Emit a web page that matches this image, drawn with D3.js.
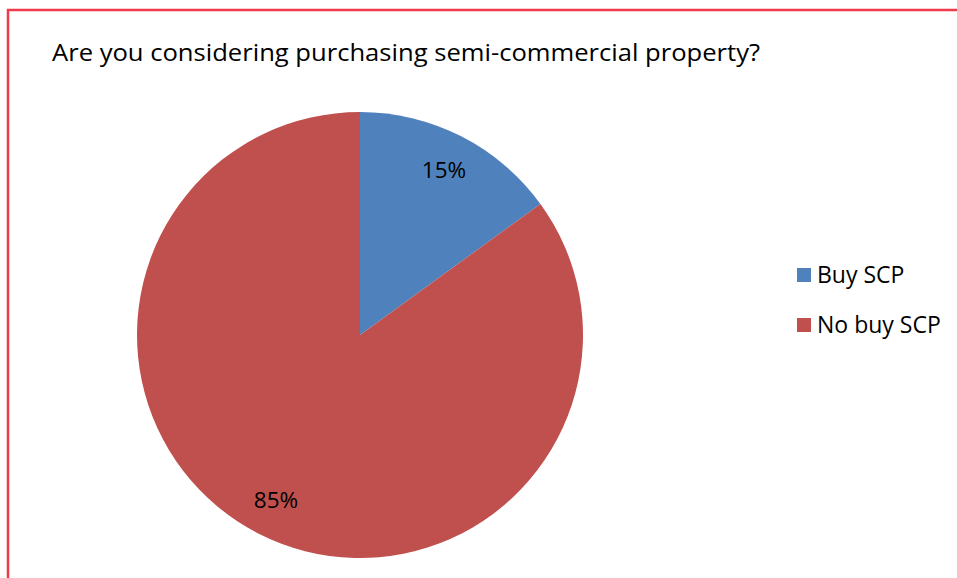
<!DOCTYPE html>
<html>
<head>
<meta charset="utf-8">
<script src="https://cdn.jsdelivr.net/npm/d3@7"></script>
<style>
  html, body { margin: 0; padding: 0; background: #fff; overflow: hidden; }
  svg { display: block; }
</style>
</head>
<body>
<script>
// Survey answers and their shares
const categories = ["Buy SCP", "No buy SCP"];
const shares = [15, 85];
const sliceColors = ["#4F81BD", "#C0504D"];
const chartTitle = "Are you considering purchasing semi-commercial property?";

const W = 957, H = 578;
const fontFamily = "'Open Sans', 'Noto Sans', sans-serif";

const svg = d3.select("body").append("svg")
  .attr("width", W).attr("height", H);

// Frame around the chart area (runs past the right and bottom edges)
svg.append("rect")
  .attr("x", 8).attr("y", 10)
  .attr("width", W + 100).attr("height", H + 100)
  .attr("fill", "#fff")
  .attr("stroke", "#EE3A4A")
  .attr("stroke-width", 2.5);

svg.append("text")
  .attr("x", 52).attr("y", 61)
  .attr("font-family", fontFamily)
  .attr("font-size", 24)
  .attr("fill", "#000")
  .attr("textLength", 708)
  .attr("lengthAdjust", "spacingAndGlyphs")
  .text(chartTitle);

const data = categories.map((c, i) => ({ name: c, value: shares[i] }));
const color = d3.scaleOrdinal().domain(categories).range(sliceColors);

const cx = 360, cy = 335, radius = 223, labelRadius = 185;

const pie = d3.pie().value(d => d.value).sort(null);
const arc = d3.arc().innerRadius(0).outerRadius(radius);
const labelArc = d3.arc().innerRadius(labelRadius).outerRadius(labelRadius);

const g = svg.append("g").attr("transform", `translate(${cx},${cy})`);
const arcs = pie(data);

g.selectAll("path.slice")
  .data(arcs)
  .join("path")
  .attr("class", "slice")
  .attr("d", arc)
  .attr("fill", d => color(d.data.name));

g.selectAll("text.pct")
  .data(arcs)
  .join("text")
  .attr("class", "pct")
  .attr("transform", d => `translate(${labelArc.centroid(d)})`)
  .attr("text-anchor", "middle")
  .attr("dy", "0.35em")
  .attr("font-family", fontFamily)
  .attr("font-size", 22.5)
  .attr("fill", "#000")
  .text(d => d.data.value + "%");

// Legend
const legend = svg.append("g").attr("transform", "translate(797,268)");
const items = legend.selectAll("g.item")
  .data(categories)
  .join("g")
  .attr("class", "item")
  .attr("transform", (d, i) => `translate(0,${i * 50})`);

items.append("rect")
  .attr("width", 14).attr("height", 14)
  .attr("fill", d => color(d));

items.append("text")
  .attr("x", 20).attr("y", 7)
  .attr("dy", "0.36em")
  .attr("font-family", fontFamily)
  .attr("font-size", 23)
  .attr("fill", "#000")
  .text(d => d);
</script>
</body>
</html>
